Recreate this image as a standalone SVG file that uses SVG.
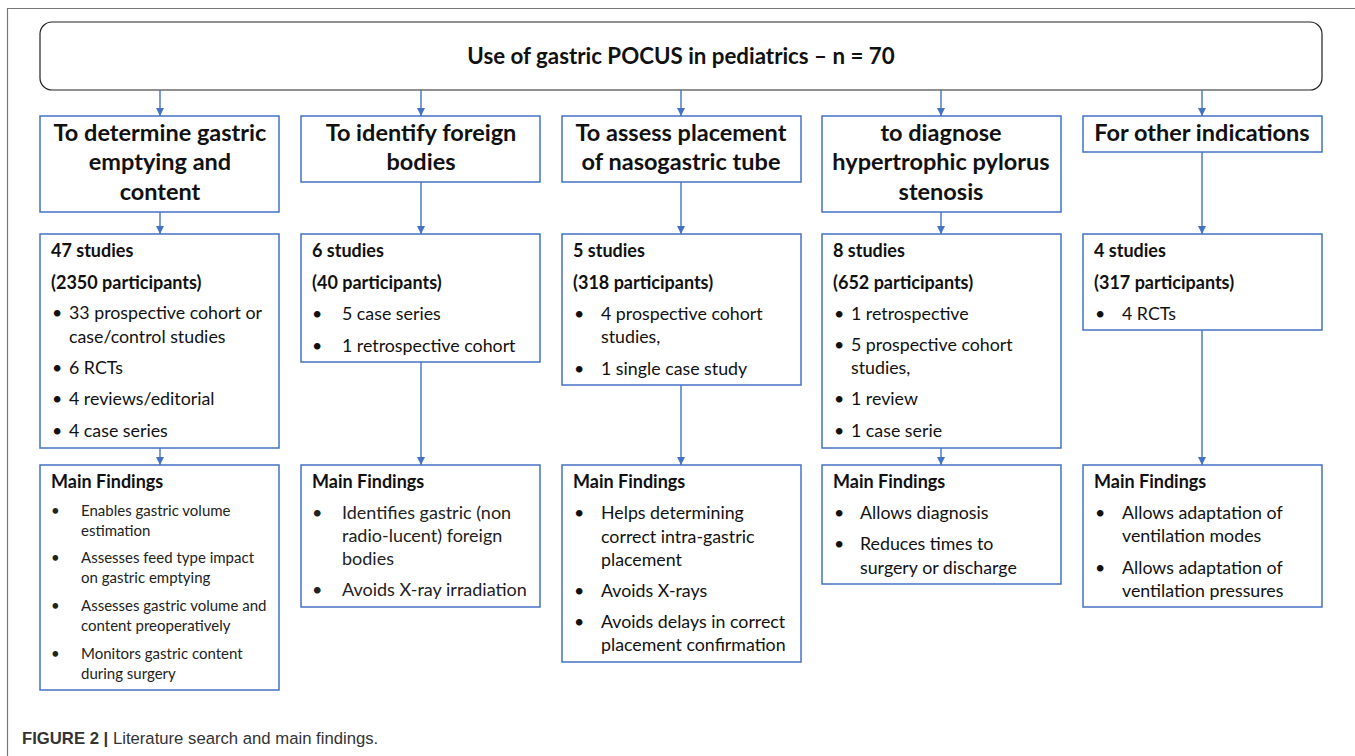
<svg xmlns="http://www.w3.org/2000/svg" width="1355" height="756" viewBox="0 0 1355 756">
<style>
.bx{fill:#fff;stroke:#4472C4;stroke-width:1.5}
.tb{fill:#fff;stroke:#222;stroke-width:1.2}
.h1{font-family:Lato,"Liberation Sans",sans-serif;font-weight:700;font-size:23.5px;fill:#111;text-anchor:middle}
.tt{font-family:Lato,"Liberation Sans",sans-serif;font-weight:700;font-size:22.3px;fill:#111;text-anchor:middle}
.hd{font-family:Lato,"Liberation Sans",sans-serif;font-weight:700;font-size:18px;fill:#111}
.t{font-family:Lato,"Liberation Sans",sans-serif;font-size:17.8px;fill:#111}
.s{font-family:Lato,"Liberation Sans",sans-serif;font-size:15px;fill:#222}
.m{font-family:Lato,"Liberation Sans",sans-serif;font-size:18px;fill:#222}
.cn line{stroke:#4472C4;stroke-width:1.4;marker-end:url(#ah)}
.cap{font-family:"Liberation Sans",Arial,sans-serif;font-size:16.7px;fill:#333}
</style>
<defs>
<marker id="ah" viewBox="0 0 10 10" refX="10" refY="5" markerWidth="8" markerHeight="8" markerUnits="userSpaceOnUse" orient="auto"><path d="M0,0 L10,5 L0,10 z" fill="#4472C4"/></marker>
</defs>
<rect width="1355" height="756" fill="#fff"/>
<path d="M7.5,756 V8.5 H1355" fill="none" stroke="#777" stroke-width="1.2"/>

<g id="title">
<rect class="tb" x="40" y="22" width="1282" height="68" rx="12"/>
<text class="tt" x="681" y="64">Use of gastric POCUS in pediatrics – n = 70</text>
</g>

<g id="connectors" class="cn">
<line x1="160" y1="90" x2="160" y2="116"/>
<line x1="421" y1="90" x2="421" y2="116"/>
<line x1="681" y1="90" x2="681" y2="116"/>
<line x1="941" y1="90" x2="941" y2="116"/>
<line x1="1202" y1="90" x2="1202" y2="116"/>
<line x1="160" y1="212" x2="160" y2="234"/>
<line x1="421" y1="182" x2="421" y2="234"/>
<line x1="681" y1="182" x2="681" y2="234"/>
<line x1="941" y1="212" x2="941" y2="234"/>
<line x1="1202" y1="152" x2="1202" y2="234"/>
<line x1="160" y1="448" x2="160" y2="465"/>
<line x1="421" y1="362" x2="421" y2="465"/>
<line x1="681" y1="385" x2="681" y2="465"/>
<line x1="941" y1="448" x2="941" y2="465"/>
<line x1="1202" y1="330" x2="1202" y2="465"/>
</g>

<g id="aim1">
<rect class="bx" x="40" y="116" width="239" height="96"/>
<text class="h1" x="160" y="141">To determine gastric</text>
<text class="h1" x="160" y="170">emptying and</text>
<text class="h1" x="160" y="200">content</text>
</g>
<g id="aim2">
<rect class="bx" x="301" y="116" width="239" height="66"/>
<text class="h1" x="421" y="141">To identify foreign</text>
<text class="h1" x="421" y="170">bodies</text>
</g>
<g id="aim3">
<rect class="bx" x="562" y="116" width="239" height="66"/>
<text class="h1" x="681" y="141">To assess placement</text>
<text class="h1" x="681" y="170">of nasogastric tube</text>
</g>
<g id="aim4">
<rect class="bx" x="822" y="116" width="239" height="96"/>
<text class="h1" x="941" y="141">to diagnose</text>
<text class="h1" x="941" y="170">hypertrophic pylorus</text>
<text class="h1" x="941" y="200">stenosis</text>
</g>
<g id="aim5">
<rect class="bx" x="1083" y="116" width="239" height="36"/>
<text class="h1" x="1202" y="141">For other indications</text>
</g>

<g id="studies1">
<rect class="bx" x="40" y="234" width="239" height="214"/>
<text class="hd" x="51" y="257">47 studies</text>
<text class="hd" x="51" y="289">(2350 participants)</text>
<text class="t" x="52" y="319">•</text><text class="t" x="69" y="319">33 prospective cohort or</text>
<text class="t" x="69" y="343">case/control studies</text>
<text class="t" x="52" y="374">•</text><text class="t" x="69" y="374">6 RCTs</text>
<text class="t" x="52" y="405">•</text><text class="t" x="69" y="405">4 reviews/editorial</text>
<text class="t" x="52" y="437">•</text><text class="t" x="69" y="437">4 case series</text>
</g>
<g id="studies2">
<rect class="bx" x="301" y="234" width="239" height="128"/>
<text class="hd" x="312" y="257">6 studies</text>
<text class="hd" x="312" y="289">(40 participants)</text>
<text class="t" x="312" y="320">•</text><text class="t" x="342" y="320">5 case series</text>
<text class="t" x="312" y="352">•</text><text class="t" x="342" y="352">1 retrospective cohort</text>
</g>
<g id="studies3">
<rect class="bx" x="562" y="234" width="239" height="151"/>
<text class="hd" x="573" y="257">5 studies</text>
<text class="hd" x="573" y="289">(318 participants)</text>
<text class="t" x="574" y="320">•</text><text class="t" x="601" y="320">4 prospective cohort</text>
<text class="t" x="601" y="343">studies,</text>
<text class="t" x="574" y="375">•</text><text class="t" x="601" y="375">1 single case study</text>
</g>
<g id="studies4">
<rect class="bx" x="822" y="234" width="239" height="214"/>
<text class="hd" x="833" y="257">8 studies</text>
<text class="hd" x="833" y="289">(652 participants)</text>
<text class="t" x="834" y="320">•</text><text class="t" x="851" y="320">1 retrospective</text>
<text class="t" x="834" y="351">•</text><text class="t" x="851" y="351">5 prospective cohort</text>
<text class="t" x="851" y="374">studies,</text>
<text class="t" x="834" y="405">•</text><text class="t" x="851" y="405">1 review</text>
<text class="t" x="834" y="437">•</text><text class="t" x="851" y="437">1 case serie</text>
</g>
<g id="studies5">
<rect class="bx" x="1083" y="234" width="239" height="96"/>
<text class="hd" x="1094" y="257">4 studies</text>
<text class="hd" x="1094" y="289">(317 participants)</text>
<text class="t" x="1095" y="320">•</text><text class="t" x="1122" y="320">4 RCTs</text>
</g>

<g id="findings1">
<rect class="bx" x="40" y="465" width="239" height="225"/>
<text class="hd" x="51" y="488">Main Findings</text>
<text class="s" x="51" y="516">•</text><text class="s" x="81" y="516">Enables gastric volume</text>
<text class="s" x="81" y="536">estimation</text>
<text class="s" x="51" y="563">•</text><text class="s" x="81" y="563">Assesses feed type impact</text>
<text class="s" x="81" y="583">on gastric emptying</text>
<text class="s" x="51" y="611">•</text><text class="s" x="81" y="611">Assesses gastric volume and</text>
<text class="s" x="81" y="631">content  preoperatively</text>
<text class="s" x="51" y="659">•</text><text class="s" x="81" y="659">Monitors  gastric content</text>
<text class="s" x="81" y="679">during surgery</text>
</g>
<g id="findings2">
<rect class="bx" x="301" y="465" width="239" height="142"/>
<text class="hd" x="312" y="488">Main Findings</text>
<text class="m" x="312" y="519">•</text><text class="m" x="342" y="519">Identifies gastric (non</text>
<text class="m" x="342" y="542">radio-lucent) foreign</text>
<text class="m" x="342" y="565">bodies</text>
<text class="m" x="312" y="596">•</text><text class="m" x="342" y="596">Avoids X-ray irradiation</text>
</g>
<g id="findings3">
<rect class="bx" x="562" y="465" width="239" height="197"/>
<text class="hd" x="573" y="488">Main Findings</text>
<text class="t" x="574" y="519">•</text><text class="t" x="601" y="519">Helps determining</text>
<text class="t" x="601" y="543">correct intra-gastric</text>
<text class="t" x="601" y="566">placement</text>
<text class="t" x="574" y="597">•</text><text class="t" x="601" y="597">Avoids X-rays</text>
<text class="t" x="574" y="628">•</text><text class="t" x="601" y="628">Avoids delays in correct</text>
<text class="t" x="601" y="651">placement confirmation</text>
</g>
<g id="findings4">
<rect class="bx" x="822" y="465" width="239" height="119"/>
<text class="hd" x="833" y="488">Main Findings</text>
<text class="t" x="834" y="519">•</text><text class="t" x="860" y="519">Allows diagnosis</text>
<text class="t" x="834" y="550">•</text><text class="t" x="860" y="550">Reduces times to</text>
<text class="t" x="860" y="574">surgery or discharge</text>
</g>
<g id="findings5">
<rect class="bx" x="1083" y="465" width="239" height="142"/>
<text class="hd" x="1094" y="488">Main Findings</text>
<text class="t" x="1095" y="519">•</text><text class="t" x="1122" y="519">Allows adaptation of</text>
<text class="t" x="1122" y="542">ventilation modes</text>
<text class="t" x="1095" y="574">•</text><text class="t" x="1122" y="574">Allows adaptation of</text>
<text class="t" x="1122" y="597">ventilation pressures</text>
</g>

<text class="cap" x="22" y="744"><tspan font-weight="700">FIGURE 2 |</tspan> Literature search and main findings.</text>
</svg>
